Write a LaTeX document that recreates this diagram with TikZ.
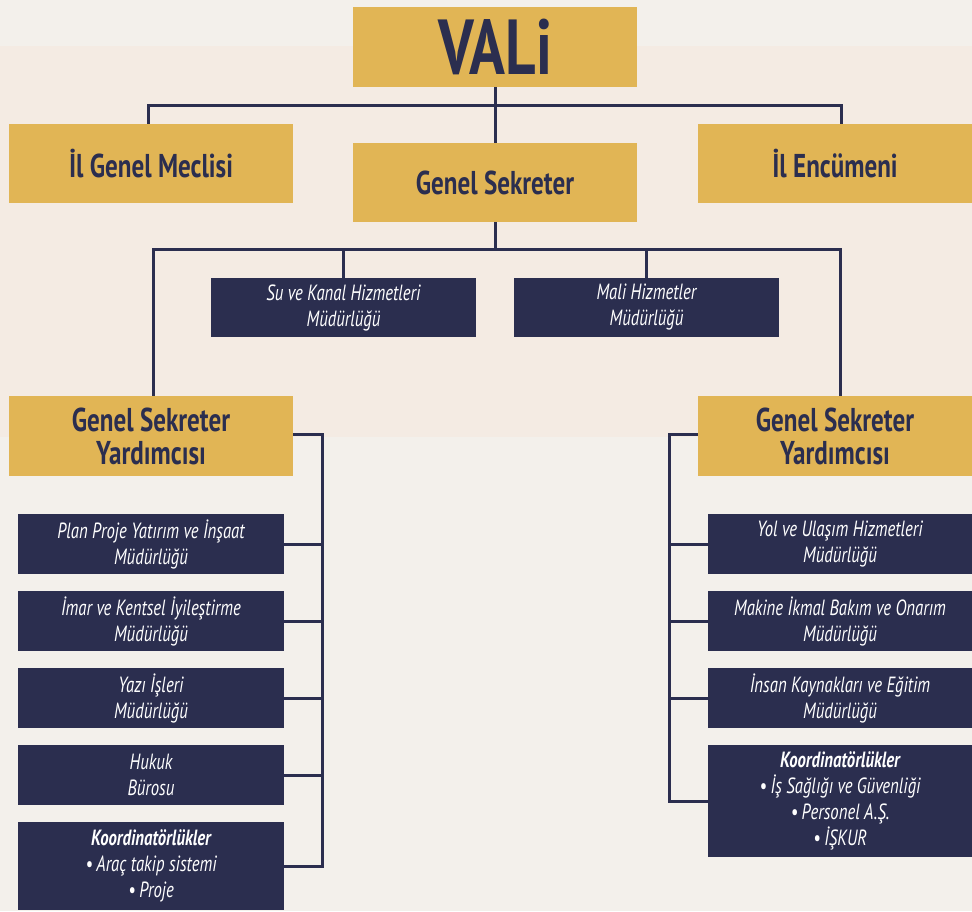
\documentclass[tikz,border=0pt]{standalone}
\usepackage{fontspec}
\usetikzlibrary{calc}
\setmainfont{PT Sans}[FakeStretch=0.76]
\definecolor{zemin}{HTML}{F3F0EB}
\definecolor{pano}{HTML}{F4EBE3}
\definecolor{altin}{HTML}{E1B555}
\definecolor{lacivert}{HTML}{2B2E4F}
\begin{document}
\begin{tikzpicture}[x=1pt,y=1pt,yscale=-1,xscale=1,
  altinkutu/.style={fill=altin,text=lacivert,inner sep=0pt,align=center,font=\bfseries\fontsize{33}{33}\selectfont},
  lacikutu/.style={fill=lacivert,text=white,inner sep=0pt,align=center,font=\itshape\fontsize{22}{26}\selectfont},
  baglanti/.style={draw=lacivert,line width=3pt}]
%set diagram left start at 0, and has height of 911
\fill[zemin] (0,0) rectangle (972,911);
\fill[pano] (0,46) rectangle (972,437);

%Shape: Rectangle [id:vali]
\node[altinkutu,minimum width=284pt,minimum height=80pt,font=\bfseries\fontsize{78}{78}\selectfont] (vali) at (495,47) {VALi};
%Shape: Rectangle [id:meclis]
\node[altinkutu,minimum width=284pt,minimum height=79pt] (meclis) at (151,163.5) {İl Genel Meclisi};
%Shape: Rectangle [id:sekreter]
\node[altinkutu,minimum width=284pt,minimum height=79pt] (sekreter) at (495,182.5) {Genel Sekreter};
%Shape: Rectangle [id:encumen]
\node[altinkutu,minimum width=274pt,minimum height=79pt] (encumen) at (835,163.5) {İl Encümeni};

%Shape: Rectangle [id:su]
\node[lacikutu,minimum width=265pt,minimum height=59pt] (su) at (343.5,307.5) {Su ve Kanal Hizmetleri\\Müdürlüğü};
%Shape: Rectangle [id:mali]
\node[lacikutu,minimum width=265pt,minimum height=59pt] (mali) at (646.5,307.5) {Mali Hizmetler\\Müdürlüğü};

%Shape: Rectangle [id:yardimciSol]
\node[altinkutu,minimum width=284pt,minimum height=80pt] (yardimciSol) at (151,436) {Genel Sekreter\\Yardımcısı};
%Shape: Rectangle [id:yardimciSag]
\node[altinkutu,minimum width=274pt,minimum height=80pt] (yardimciSag) at (835,436) {Genel Sekreter\\Yardımcısı};

%Shape: Rectangle [id:sol1..sol5]
\node[lacikutu,minimum width=266pt,minimum height=60pt] (sol1) at (151,544) {Plan Proje Yatırım ve İnşaat\\Müdürlüğü};
\node[lacikutu,minimum width=266pt,minimum height=60pt] (sol2) at (151,621) {İmar ve Kentsel İyileştirme\\Müdürlüğü};
\node[lacikutu,minimum width=266pt,minimum height=60pt] (sol3) at (151,698) {Yazı İşleri\\Müdürlüğü};
\node[lacikutu,minimum width=266pt,minimum height=60pt] (sol4) at (151,775) {Hukuk\\Bürosu};
\node[lacikutu,minimum width=266pt,minimum height=88pt] (sol5) at (151,866) {\textbf{Koordinatörlükler}\\\textbullet\,Araç takip sistemi\\\textbullet\,Proje};

%Shape: Rectangle [id:sag1..sag4]
\node[lacikutu,minimum width=264pt,minimum height=60pt] (sag1) at (840,544) {Yol ve Ulaşım Hizmetleri\\Müdürlüğü};
\node[lacikutu,minimum width=264pt,minimum height=60pt] (sag2) at (840,621) {Makine İkmal Bakım ve Onarım\\Müdürlüğü};
\node[lacikutu,minimum width=264pt,minimum height=60pt] (sag3) at (840,698) {İnsan Kaynakları ve Eğitim\\Müdürlüğü};
\node[lacikutu,minimum width=264pt,minimum height=112pt] (sag4) at (840,801) {\textbf{Koordinatörlükler}\\\textbullet\,İş Sağlığı ve Güvenliği\\\textbullet\,Personel A.Ş.\\\textbullet\,İŞKUR};

%Straight Lines [id:ust]
\draw[baglanti] (vali.south) -- (sekreter.north);
\draw[baglanti] ($(meclis.north)+(-3,0)$) -- ++(0,-18) -| ($(encumen.north)+(6,0)$);
%Straight Lines [id:orta]
\draw[baglanti] (sekreter.south) -- ++(0,28);
\draw[baglanti] ($(yardimciSol.north)+(2,0)$) -- ++(0,-146) -| ($(yardimciSag.north)+(5,0)$);
\draw[baglanti] (su.north) -- ++(0,-28);
\draw[baglanti] (mali.north) -- ++(0,-28);

%Straight Lines [id:solkol]
\coordinate (solgovde) at (322,434);
\draw[baglanti] (yardimciSol.east |- solgovde) -- (solgovde) |- (sol5.east);
\foreach \k in {sol1,sol2,sol3,sol4}
  \draw[baglanti] (\k.east) -- (\k.east -| solgovde);
%Straight Lines [id:sagkol]
\coordinate (saggovde) at (669,434);
\draw[baglanti] (yardimciSag.west |- saggovde) -- (saggovde) |- (sag4.west);
\foreach \k in {sag1,sag2,sag3}
  \draw[baglanti] (\k.west) -- (\k.west -| saggovde);
\end{tikzpicture}
\end{document}
